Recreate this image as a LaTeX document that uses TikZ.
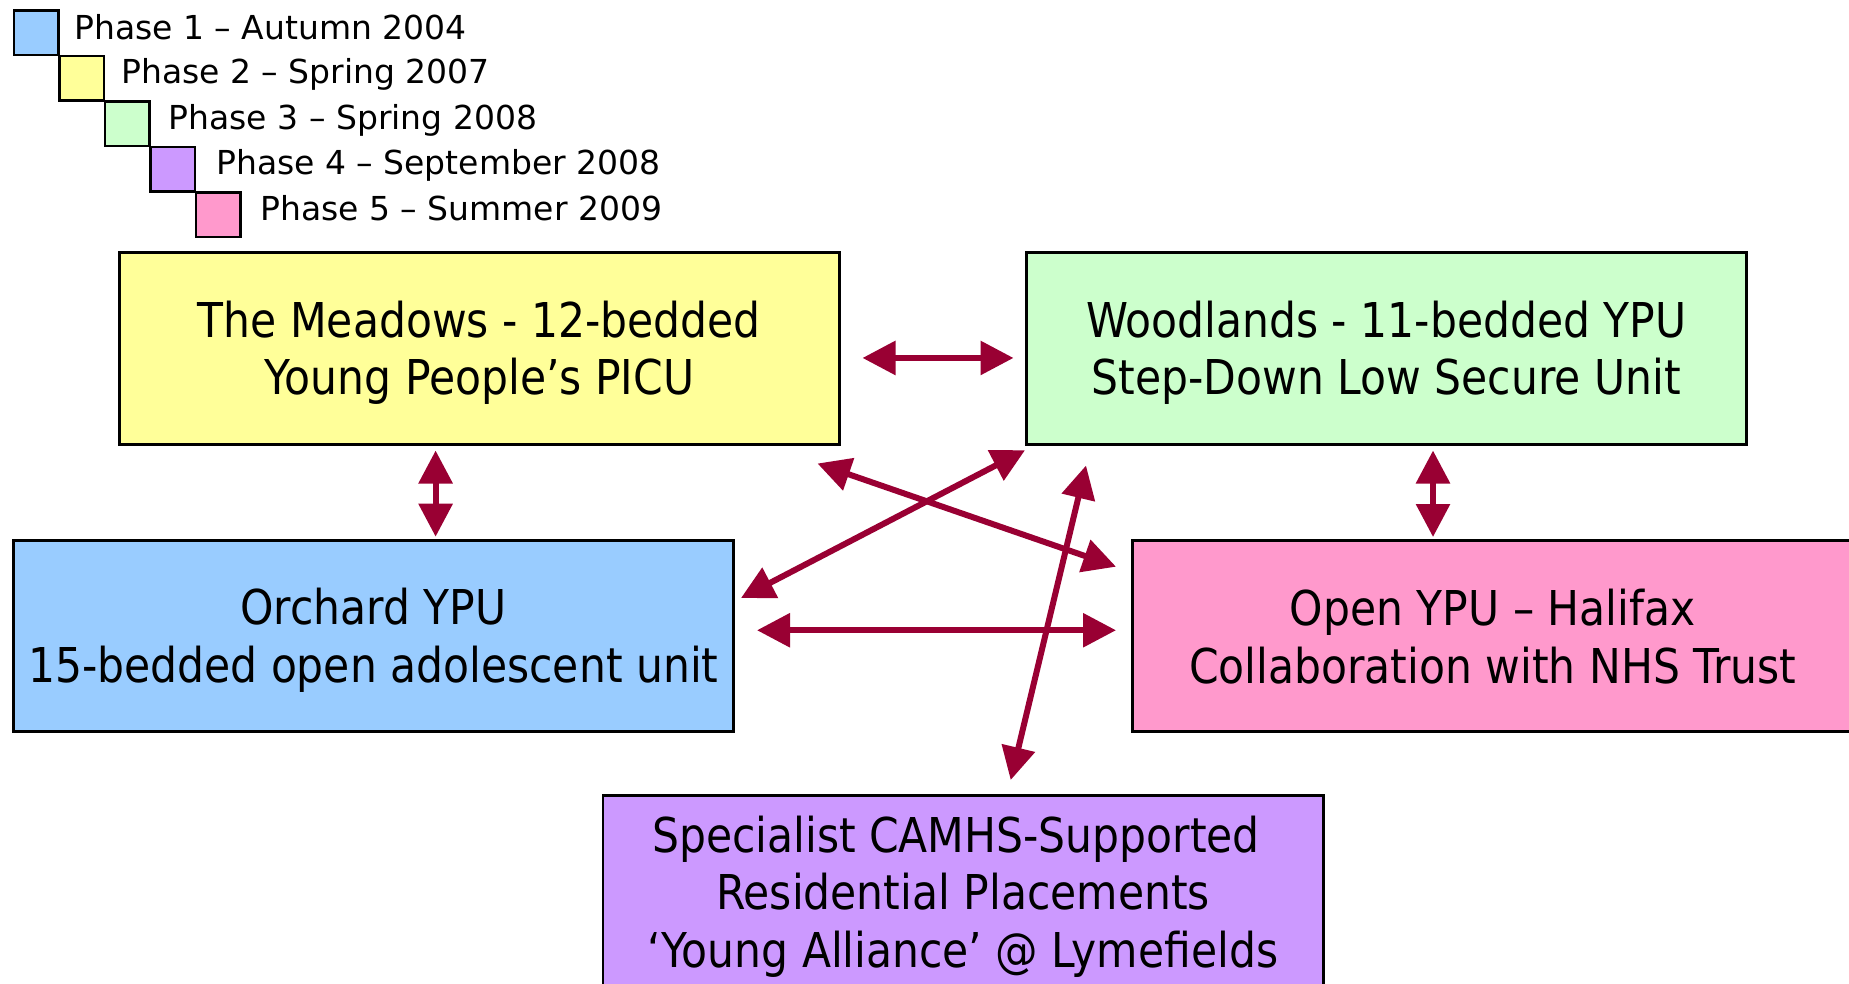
\documentclass[tikz,border=0pt]{standalone}
\usepackage{fontspec}
\setmainfont{DejaVu Sans}
\newfontfamily\boxfont{DejaVu Sans}[FakeStretch=0.885]
\usetikzlibrary{arrows.meta,calc}
\definecolor{phaseblue}{HTML}{99CCFF}
\definecolor{phaseyellow}{HTML}{FFFF99}
\definecolor{phasegreen}{HTML}{CCFFCC}
\definecolor{phasepurple}{HTML}{CC99FF}
\definecolor{phasepink}{HTML}{FF99CC}
\definecolor{arrowred}{HTML}{990033}
\newcommand\bxstrut{\rule[-8pt]{0pt}{53pt}}
\tikzset{
  unitbox/.style={draw=black, line width=2.5pt, align=center, inner sep=0pt, anchor=north west,
    font=\boxfont\fontsize{48}{57.5}\selectfont},
  legsq/.style={draw=black, line width=2.5pt, anchor=north west, minimum size=44.5pt, inner sep=0pt},
  legtext/.style={anchor=base west, inner sep=0pt, font=\fontsize{33}{40}\selectfont},
  conn/.style={draw=arrowred, line width=6pt,
    {Triangle[length=33pt,width=33pt]}-{Triangle[length=33pt,width=33pt]}}
}
\begin{document}
\begin{tikzpicture}[x=1pt, y=-1pt]
\useasboundingbox (0,0) rectangle (1849,983);
% legend
\node[legsq, fill=phaseblue]   (sq1) at (12.5,9.3) {};
\node[legsq, fill=phaseyellow] (sq2) at (58,54.8) {};
\node[legsq, fill=phasegreen]  (sq3) at (103.5,100.3) {};
\node[legsq, fill=phasepurple] (sq4) at (149,145.8) {};
\node[legsq, fill=phasepink]   (sq5) at (194.5,191.3) {};
\node[legtext] (lt1) at (74,39.3)  {Phase 1 – Autumn 2004};
\node[legtext] (lt2) at (121,83.8) {Phase 2 – Spring 2007};
\node[legtext] (lt3) at (168.5,129.3) {Phase 3 – Spring 2008};
\node[legtext] (lt4) at (216,174.3) {Phase 4 – September 2008};
\node[legtext] (lt5) at (260,220) {Phase 5 – Summer 2009};
% boxes
\node[unitbox, fill=phaseyellow, minimum width=720pt, minimum height=192pt] (meadows) at (118,251)
  {\bxstrut The Meadows - 12-bedded\\\bxstrut Young People’s PICU};
\node[unitbox, fill=phasegreen, minimum width=720pt, minimum height=192pt] (woodlands) at (1025,251)
  {\bxstrut Woodlands - 11-bedded YPU\\\bxstrut Step-Down Low Secure Unit};
\node[unitbox, fill=phaseblue, minimum width=720pt, minimum height=191pt] (orchard) at (12,539)
  {\bxstrut Orchard YPU\\\bxstrut 15-bedded open adolescent unit};
\node[unitbox, fill=phasepink, minimum width=721pt, minimum height=191pt] (open) at (1131,539)
  {\bxstrut Open YPU – Halifax\\\bxstrut Collaboration with NHS Trust};
\node[unitbox, fill=phasepurple, minimum width=720.5pt, minimum height=194pt] (special) at (601.5,794)
  {\bxstrut Specialist CAMHS-Supported\kern14pt\\\bxstrut Residential Placements\\\bxstrut ‘Young Alliance’ @ Lymefields};
% connectors
\draw[conn] ($(meadows.east)+(22,9.7)$) -- ($(woodlands.west)+(-11.5,9.7)$);
\draw[conn] ($(meadows.south west)+(317.6,5)$) -- ($(orchard.north west)+(423.6,-2.3)$);
\draw[conn] ($(woodlands.south west)+(408,5)$) -- ($(open.north west)+(302,-2)$);
\draw[conn] ($(orchard.east)+(22.5,-5.5)$) -- ($(open.west)+(-15,-5.5)$);
\draw[conn] ($(meadows.south east)+(-23,18)$) -- ($(open.north west)+(-15,27.7)$);
\draw[conn] ($(orchard.north east)+(6.5,59)$) -- ($(woodlands.south west)+(0,4.7)$);
\draw[conn] ($(special.north west)+(409.2,-14)$) -- ($(woodlands.south west)+(61,20)$);
\end{tikzpicture}
\end{document}
